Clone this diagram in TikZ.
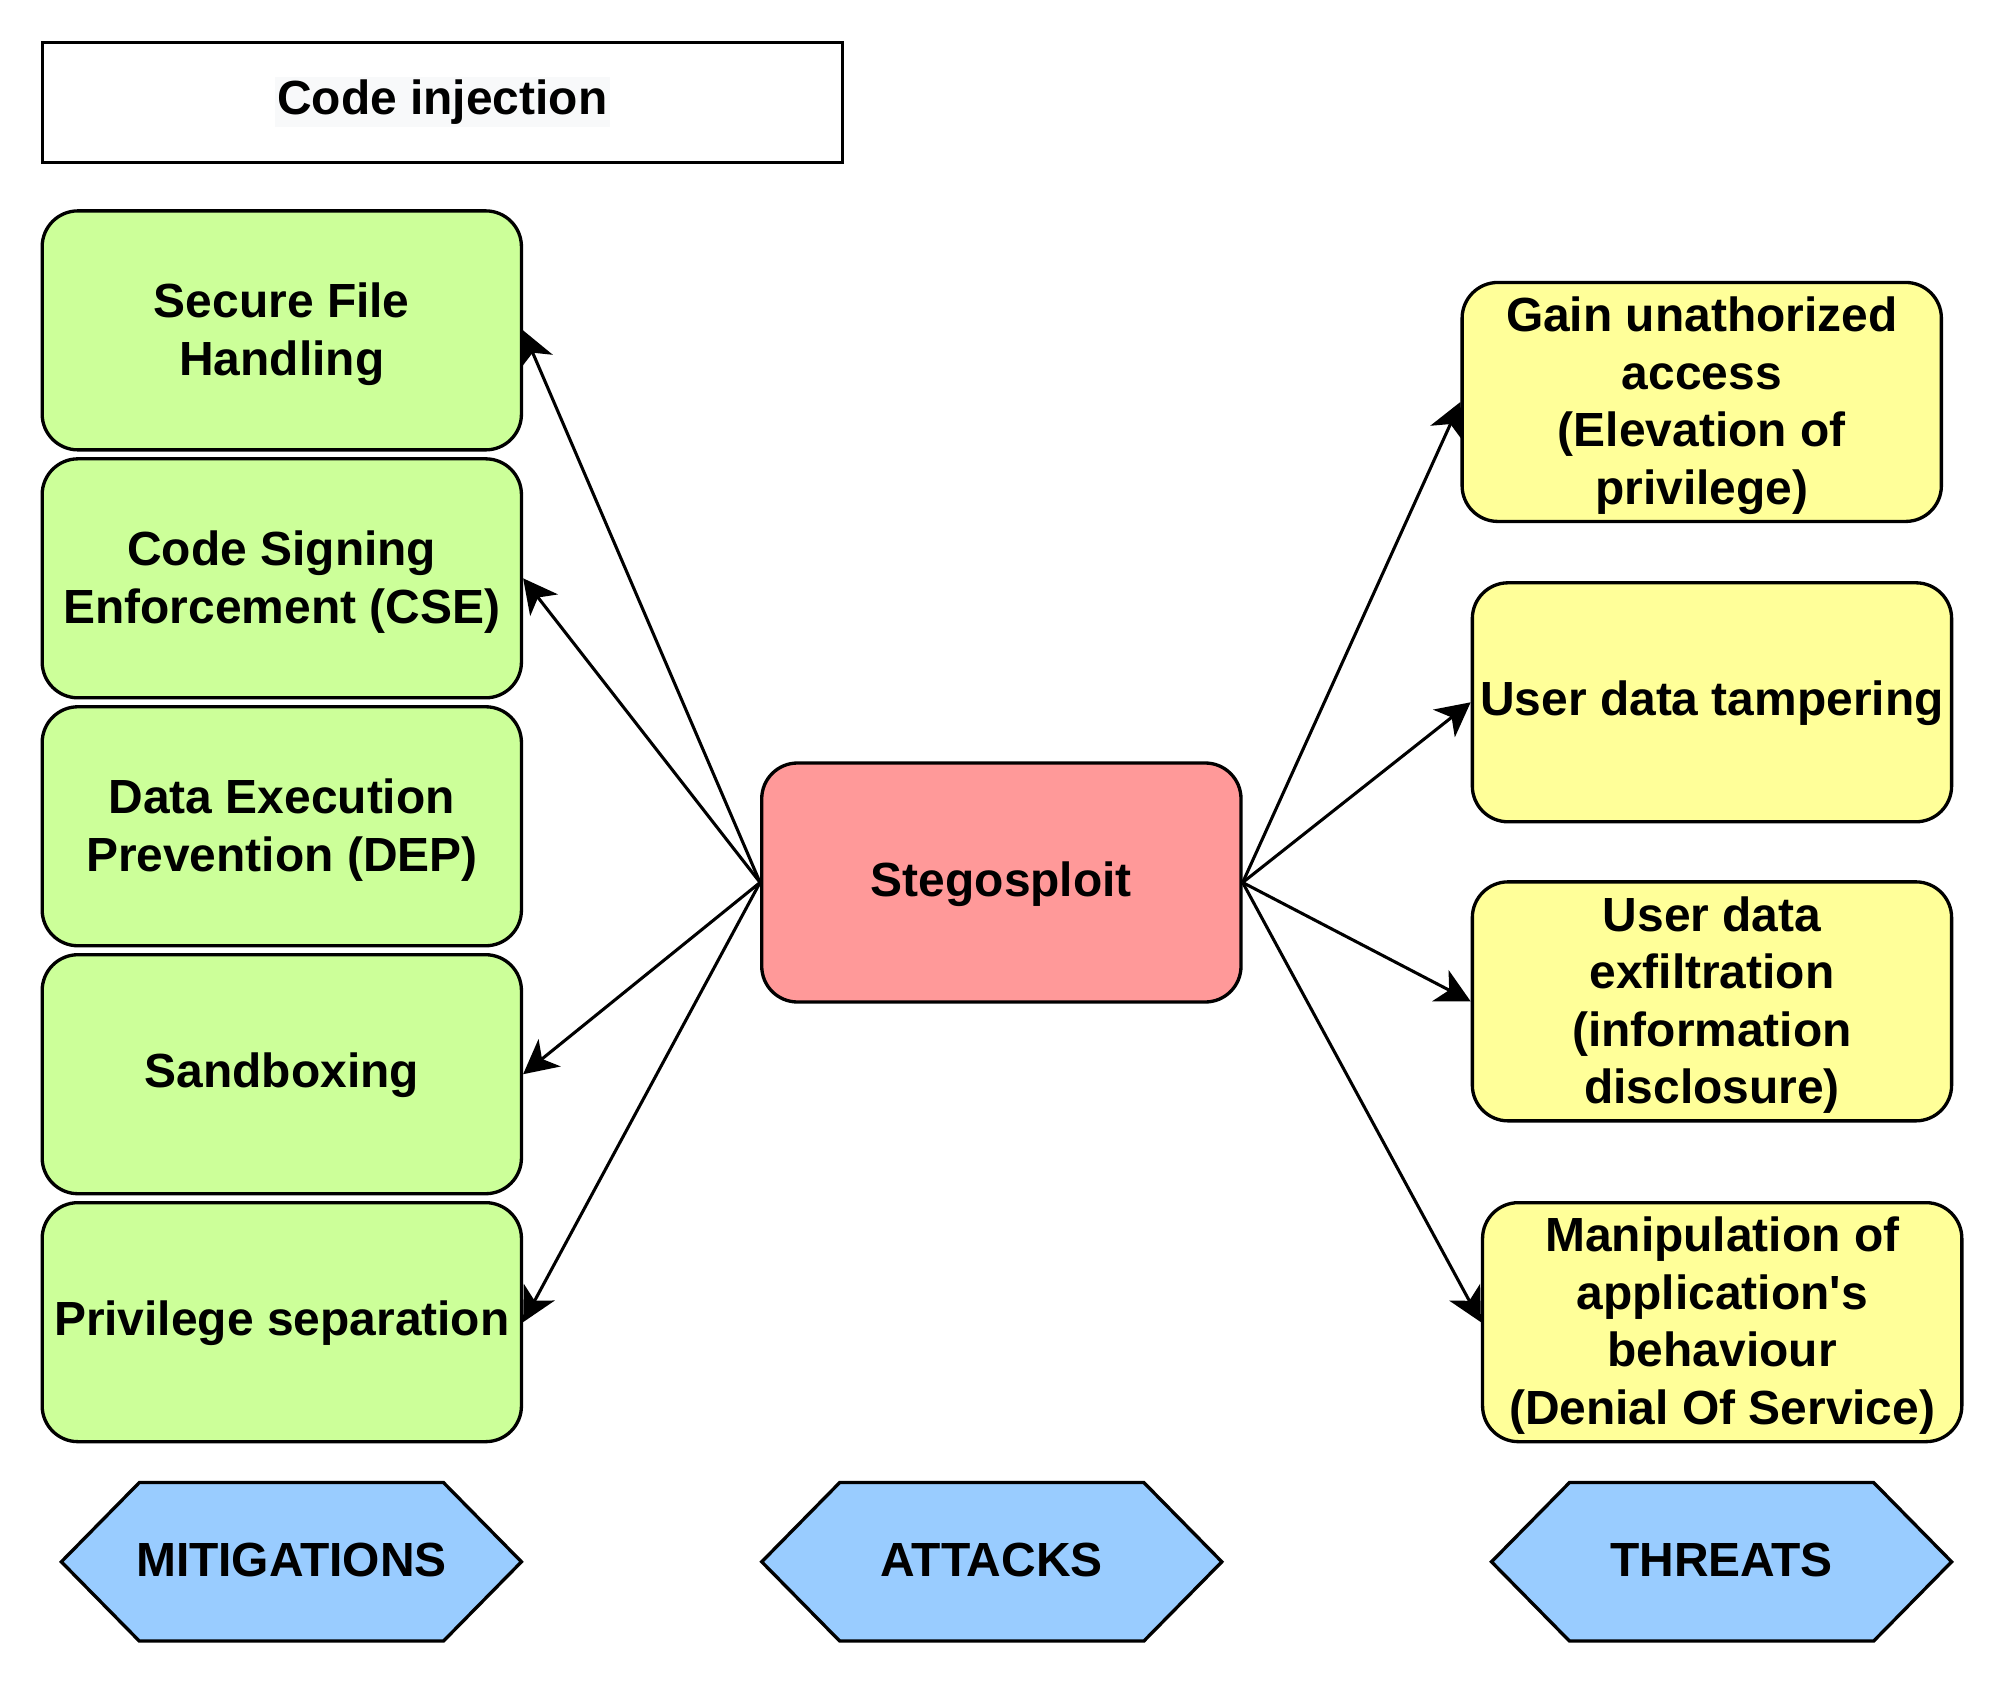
\documentclass[tikz,border=0pt]{standalone}
\usepackage{fontspec}
\newfontfamily\lsans{Liberation Sans}
\usetikzlibrary{arrows.meta}
\definecolor{gfill}{RGB}{204,255,153}
\definecolor{rfill}{RGB}{255,153,153}
\definecolor{yfill}{RGB}{255,255,153}
\definecolor{bfill}{RGB}{153,204,255}
\definecolor{lblbg}{RGB}{248,249,250}
\newcommand{\mlines}[1]{\raisebox{-3.5bp}[\height][\depth]{\begin{tabular}{@{}c@{}}#1\end{tabular}}}
\newcommand{\oneline}[1]{\raisebox{-1bp}[\height][\depth]{#1}}
\tikzset{
  txt/.style={font=\lsans\bfseries\fontsize{37.5bp}{45bp}\selectfont, align=center, text=black},
  box/.style={txt, draw=black, line width=2.6bp, rounded corners=28bp,
    minimum width=375bp, minimum height=187bp, inner sep=0pt},
  mitbox/.style={box, fill=gfill},
  atkbox/.style={box, fill=rfill},
  thrbox/.style={box, fill=yfill},
  titlebox/.style={draw=black, line width=2.6bp, fill=white,
    minimum width=626bp, minimum height=94bp, inner sep=0pt},
  hexshape/.style={draw=black, line width=2.6bp, fill=bfill, line join=miter},
  conn/.style={draw=black, line width=2.4bp,
    -{Stealth[length=26.6bp, width=27.4bp, inset=7.6bp]}}
}
\begin{document}
\begin{tikzpicture}[x=1bp, y=-1bp]
\useasboundingbox (0,0) rectangle (1568,1318);

% title
\node[titlebox] (ci) at (346,80) {};
\node[txt, fill=lblbg, inner sep=2bp] (cilabel) at (ci.center) {Code injection};

% mitigations
\node[mitbox] (sfh) at (220.5,258.5) {\mlines{Secure File\\Handling}};
\node[mitbox] (cse) at (220.5,452.5) {\mlines{Code Signing\\Enforcement (CSE)}};
\node[mitbox] (dep) at (220.5,646.5) {\mlines{Data Execution\\Prevention (DEP)}};
\node[mitbox] (sbx) at (220.5,840.5) {\oneline{Sandboxing}};
\node[mitbox] (psep) at (220.5,1034.5) {\oneline{Privilege separation}};

% attack
\node[atkbox] (steg) at (783.5,690.5) {\oneline{Stegosploit}};

% threats
\node[thrbox] (gain) at (1331.5,314.5) {\mlines{Gain unathorized\\access\\(Elevation of\\privilege)}};
\node[thrbox] (tamp) at (1339.5,549.5) {\oneline{User data tampering}};
\node[thrbox] (exfil) at (1339.5,783.5) {\mlines{User data\\exfiltration\\(information\\disclosure)}};
\node[thrbox] (manip) at (1347.5,1034.5) {\mlines{Manipulation of\\application's\\behaviour\\(Denial Of Service)}};

% hexagon labels
\draw[hexshape] (48,1222) -- (109,1160) -- (347,1160) -- (408,1222) -- (347,1284) -- (109,1284) -- cycle;
\node[txt] (hmit) at (228,1220.5) {MITIGATIONS};
\draw[hexshape] (596,1222) -- (657,1160) -- (895,1160) -- (956,1222) -- (895,1284) -- (657,1284) -- cycle;
\node[txt] (hatk) at (776,1220.5) {ATTACKS};
\draw[hexshape] (1167,1222) -- (1228,1160) -- (1466,1160) -- (1527,1222) -- (1466,1284) -- (1228,1284) -- cycle;
\node[txt] (hthr) at (1347,1220.5) {THREATS};

% connectors
\draw[conn] (steg.west) -- (sfh.east);
\draw[conn] (steg.west) -- (cse.east);
\draw[conn] (steg.west) -- (sbx.east);
\draw[conn] (steg.west) -- (psep.east);
\draw[conn] (steg.east) -- (gain.west);
\draw[conn] (steg.east) -- (tamp.west);
\draw[conn] (steg.east) -- (exfil.west);
\draw[conn] (steg.east) -- (manip.west);
\end{tikzpicture}
\end{document}
